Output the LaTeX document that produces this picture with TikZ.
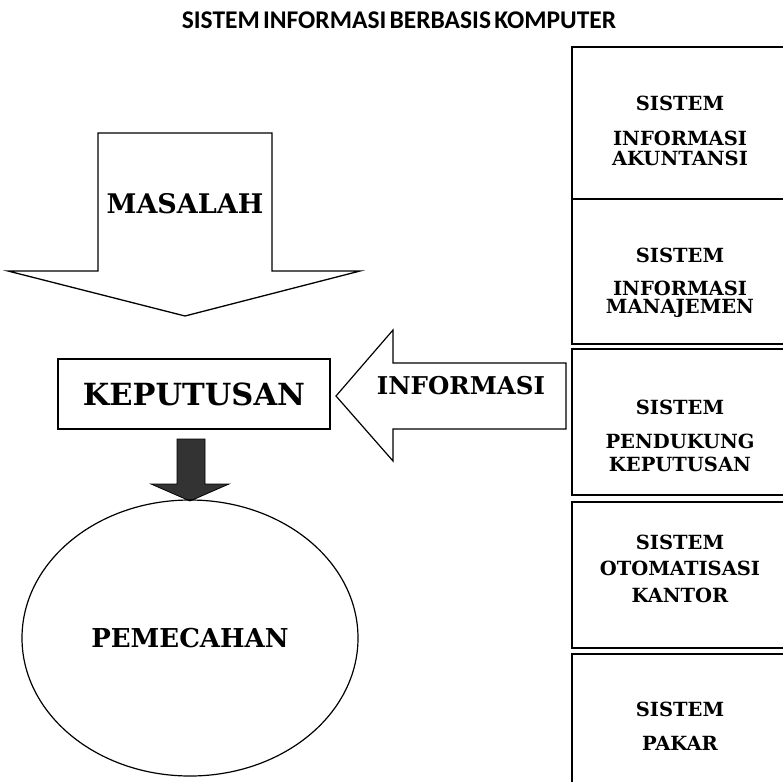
\documentclass[tikz,border=0pt]{standalone}
\usepackage{xcolor}
\usepackage{fontspec}
\setmainfont{DejaVu Serif}
\newfontfamily\titlefont[WordSpace=0.55]{Carlito}
\usepackage{tikz}
\usetikzlibrary{shapes.geometric}

\definecolor{darkarrow}{HTML}{333333}

\begin{document}
\begin{tikzpicture}[x=1pt,y=-1pt,
  sysbox/.style={draw,line width=1.4pt,minimum width=216pt},
  sysline/.style={font=\bfseries\fontsize{19.5}{20}\selectfont,inner sep=0pt},
  bigword/.style={font=\bfseries\fontsize{#1}{#1}\selectfont,inner sep=0pt}]
\clip (0,0) rectangle (783,781);
\node[font=\titlefont\bfseries\fontsize{25.5}{28}\selectfont] (title) at (399,20) {SISTEM INFORMASI BERBASIS KOMPUTER};

\draw[line width=1.3pt,fill=white] (98,133) -- (272,133) -- (272,271) -- (360,271) -- (185,316) -- (8,271) -- (98,271) -- cycle;
\node[bigword=27] (masalah) at (185,204) {MASALAH};

\node[draw,line width=1.2pt,minimum width=272pt,minimum height=70pt] (keputusan) at (194,394) {};
\node[bigword=30.5] at (keputusan) {KEPUTUSAN};

\draw[line width=1.2pt,fill=white] (336,396) -- (393,330) -- (393,363) -- (566,363) -- (566,429) -- (393,429) -- (393,461) -- cycle;
\node[bigword=24.5] (informasi) at (461,386) {INFORMASI};

\draw[line width=0.8pt,fill=darkarrow] (177,439) -- (205,439) -- (205,484) -- (229,484) -- (190,501) -- (151,484) -- (177,484) -- cycle;

\node[ellipse,draw,line width=1.2pt,minimum width=336pt,minimum height=276pt] (pemecahan) at (190,638) {};
\node[bigword=26] at (pemecahan) {PEMECAHAN};

\node[sysbox,minimum height=152pt] (sia) at (680,123) {};
\node[sysbox,minimum height=145pt] (sim) at (680,271.5) {};
\node[sysbox,minimum height=146pt] (spk) at (680,422) {};
\node[sysbox,minimum height=146pt] (sok) at (680,575) {};
\node[sysbox,minimum height=146pt] (sp) at (680,727) {};

\foreach \word/\ypos [count=\i] in {SISTEM/103,INFORMASI/138,AKUNTANSI/158,
    SISTEM/255,INFORMASI/288,MANAJEMEN/308,
    SISTEM/407,PENDUKUNG/441,KEPUTUSAN/464,
    SISTEM/542,OTOMATISASI/568,KANTOR/595,
    SISTEM/709,PAKAR/743}
  \node[sysline] (line\i) at (680,\ypos) {\word};
\end{tikzpicture}
\end{document}
